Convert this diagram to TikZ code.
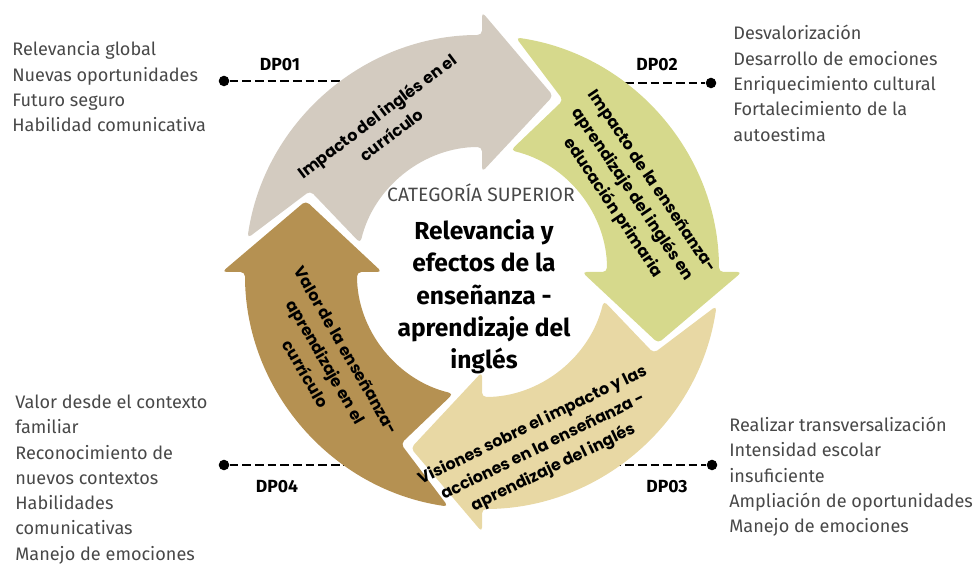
\documentclass[tikz,border=0pt]{standalone}
\usepackage{fontspec}
\setmainfont{Fira Sans}
\newfontfamily\arrowfont{Poppins}
\usepackage{tikz}
\usetikzlibrary{positioning}
\usetikzlibrary{calc}

\definecolor{arrgray}{RGB}{211,203,192}
\definecolor{arrgreen}{RGB}{214,217,140}
\definecolor{arrbeige}{RGB}{232,216,164}
\definecolor{arrbrown}{RGB}{181,145,82}
\definecolor{txtgray}{RGB}{72,72,72}

\begin{document}
\begin{tikzpicture}[%
x=0.02cm, y=0.02cm,
arrowtxt/.style={font=\arrowfont\bfseries\fontsize{9.1}{13.4}\selectfont, align=center, text=black},
listtxt/.style={font=\fontsize{10.3}{12}\selectfont, anchor=base west, inner sep=0pt, text=txtgray},
dplabel/.style={font=\bfseries\fontsize{10}{12}\selectfont},
dpline/.style={dash pattern=on 5pt off 2.2pt, line width=0.9pt},
]
\useasboundingbox (0,0) rectangle (975,565);
\coordinate (C) at (482,293);

% connectors to the lists
\coordinate (d1) at (350,484);
\coordinate (d2) at (600,482);
\coordinate (d3) at (600,100);
\coordinate (d4) at (350,100);
\node[circle, fill=black, inner sep=0pt, minimum size=6pt] (p1) at (224,484) {};
\node[circle, fill=black, inner sep=0pt, minimum size=6pt] (p2) at (711,482) {};
\node[circle, fill=black, inner sep=0pt, minimum size=6pt] (p3) at (712,100) {};
\node[circle, fill=black, inner sep=0pt, minimum size=6pt] (p4) at (224,100) {};
\draw[dpline] (p1) -- (d1);
\draw[dpline] (d2) -- (p2);
\draw[dpline] (d3) -- (p3);
\draw[dpline] (p4) -- (d4);
\node[dplabel] (DP01) at (280,500) {DP01};
\node[dplabel] (DP02) at (657,500) {DP02};
\node[dplabel] (DP03) at (667,78) {DP03};
\node[dplabel] (DP04) at (277,78) {DP04};

% ring of arrows
\foreach \b/\col in {90/arrgray, 0/arrgreen, -90/arrbeige, 180/arrbrown}{
\fill[\col, rounded corners=2.5pt, shift={(C)}]
  ({\b+81.8}:237) arc[start angle={\b+81.8}, end angle=\b, radius=237]
  -- (\b:260) -- ({\b-22}:190) -- (\b:100) -- (\b:125)
  arc[start angle=\b, end angle={\b+76.7}, radius=125]
  -- ({\b+64.7}:190) -- cycle;
}

\node[arrowtxt, rotate=37] (A1) at (384,440) {Impacto del inglés en el\\currículo};
\node[arrowtxt, rotate=-56] (A2) at (632,370) {Impacto de la enseñanza-\\aprendizaje del inglés en\\educación primaria};
\node[arrowtxt, rotate=26] (A3) at (543,118) {Visiones sobre el impacto y las\\acciones en la enseñanza -\\aprendizaje del inglés};
\node[arrowtxt, rotate=-60] (A4) at (326,203) {Valor de la enseñanza-\\aprendizaje en el\\currículo};

% centre
\node[font=\fontsize{11}{12}\selectfont, text=txtgray] (cat) at (481,372) {CATEGORÍA SUPERIOR};
\node[font=\bfseries\fontsize{14}{18.4}\selectfont, align=center] (title) at (484,268) {Relevancia y\\efectos de la\\enseñanza -\\aprendizaje del\\inglés};

% lists
\foreach \t [count=\i] in {Relevancia global, Nuevas oportunidades, Futuro seguro, Habilidad comunicativa}
  \node[listtxt] (l1\i) at (12,{565-56-25.3*(\i-1)}) {\t};
\foreach \t [count=\i] in {Desvalorización, Desarrollo de emociones, Enriquecimiento cultural, Fortalecimiento de la, autoestima}
  \node[listtxt] (l2\i) at (733,{565-40-25.3*(\i-1)}) {\t};
\foreach \t [count=\i] in {Realizar transversalización, Intensidad escolar, insuficiente, Ampliación de oportunidades, Manejo de emociones}
  \node[listtxt] (l3\i) at (729,{565-431.5-25.3*(\i-1)}) {\t};
\foreach \t [count=\i] in {Valor desde el contexto, familiar, Reconocimiento de, nuevos contextos, Habilidades, comunicativas, Manejo de emociones}
  \node[listtxt] (l4\i) at (15,{565-408.5-25.3*(\i-1)}) {\t};
\end{tikzpicture}
\end{document}
